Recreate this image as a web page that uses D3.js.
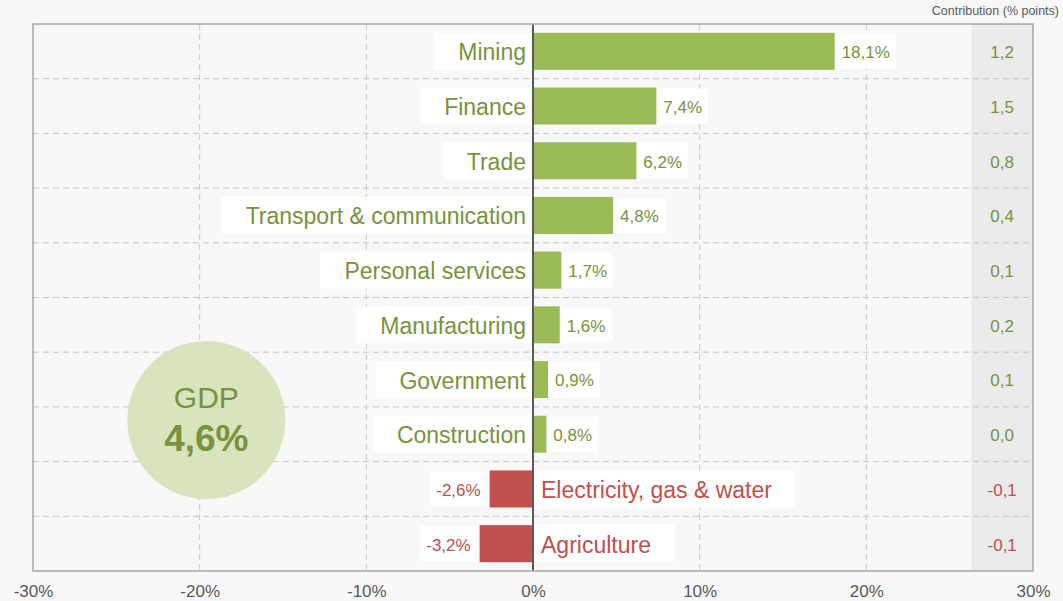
<!DOCTYPE html>
<html>
<head>
<meta charset="utf-8">
<script src="https://cdn.jsdelivr.net/npm/d3@7"></script>
<style>
  html, body { margin: 0; padding: 0; background: #f8f8f8; }
  svg { display: block; font-family: "Liberation Sans", Arial, sans-serif; }
</style>
</head>
<body>
<svg id="chart" width="1063" height="601"></svg>
<script>
// Sector growth rates (%) and contributions to GDP growth (percentage points)
const sectors = ["Mining", "Finance", "Trade", "Transport & communication", "Personal services",
                 "Manufacturing", "Government", "Construction", "Electricity, gas & water", "Agriculture"];
const growth = [18.1, 7.4, 6.2, 4.8, 1.7, 1.6, 0.9, 0.8, -2.6, -3.2];
const contribution = [1.2, 1.5, 0.8, 0.4, 0.1, 0.2, 0.1, 0.0, -0.1, -0.1];
const xTicks = [-30, -20, -10, 0, 10, 20, 30];
const gdpGrowth = 4.6;
const contributionTitle = "Contribution (% points)";

const W = 1063, H = 601;
const m = { left: 33, right: 30, top: 24, bottom: 30 };
const plotR = W - m.right, plotB = H - m.bottom;

const GREEN = "#9bbb59", GREEN_TXT = "#77933c";
const RED = "#c0504d", RED_TXT = "#c0504d";
const GREY_TXT = "#595959";

// decimal comma, plain hyphen for negatives
const fmt = v => d3.format(".1f")(v).replace(".", ",").replace("\u2212", "-");

const svg = d3.select("#chart");

const x = d3.scaleLinear().domain([-30, 30]).range([m.left, plotR]);
const y = d3.scaleBand().domain(sectors).range([m.top, plotB]).paddingInner(0).paddingOuter(0);
const barPad = (y.bandwidth() - 37) / 2;

// contribution column shading
const colL = x(26.3);
svg.append("rect").attr("x", colL).attr("y", m.top)
  .attr("width", plotR - colL).attr("height", plotB - m.top).attr("fill", "#ebebeb");

// dashed grid
const grid = svg.append("g").attr("stroke", "#c6c6c6").attr("stroke-width", 1).attr("stroke-dasharray", "6,4");
grid.selectAll("line.v").data(xTicks.filter(t => t !== 0 && Math.abs(t) !== 30)).join("line")
  .attr("x1", d => x(d)).attr("x2", d => x(d)).attr("y1", m.top).attr("y2", plotB);
grid.selectAll("line.h").data(sectors.slice(1)).join("line")
  .attr("x1", m.left).attr("x2", plotR).attr("y1", d => y(d)).attr("y2", d => y(d));

// GDP bubble
const gdp = svg.append("g")
  .attr("transform", `translate(${x(-19.6)},${y("Construction") + 0.24 * y.bandwidth()})`);
gdp.append("circle").attr("r", 79).attr("fill", "#d7e4bd");
gdp.append("text").attr("y", -12).attr("text-anchor", "middle").attr("font-size", 30)
  .attr("fill", GREEN_TXT).text("GDP");
gdp.append("text").attr("y", 31).attr("text-anchor", "middle").attr("font-size", 37)
  .attr("font-weight", "bold").attr("fill", GREEN_TXT).text(fmt(gdpGrowth) + "%");

// rows
const rows = svg.append("g").selectAll("g").data(sectors).join("g")
  .attr("transform", d => `translate(0,${y(d)})`);

const barTop = barPad, barH = y.bandwidth() - 2 * barPad, mid = y.bandwidth() / 2 + 1;

rows.each(function (name, i) {
  const g = d3.select(this);
  const v = growth[i];
  const pos = v >= 0;
  const txtCol = pos ? GREEN_TXT : RED_TXT;

  // sector name with white backing box on the side opposite the bar
  const lab = g.append("text").attr("font-size", 23).attr("fill", txtCol)
    .attr("y", mid).attr("dy", "0.35em")
    .attr("text-anchor", pos ? "end" : "start")
    .attr("x", pos ? x(0) - 7 : x(0) + 8).text(name);
  const lb = lab.node().getBBox();
  const padFar = 24, padNear = 5;
  g.insert("rect", "text")
    .attr("x", pos ? lb.x - padFar : x(0))
    .attr("width", lb.width + padFar + padNear + (pos ? 0 : 2))
    .attr("y", barTop).attr("height", barH).attr("fill", "#ffffff");

  // bar
  g.append("rect").attr("x", x(Math.min(0, v))).attr("width", Math.abs(x(v) - x(0)))
    .attr("y", barTop).attr("height", barH).attr("fill", pos ? GREEN : RED);

  // value label with white backing box
  const val = g.append("text").attr("font-size", 17).attr("fill", txtCol)
    .attr("y", mid).attr("dy", "0.35em")
    .attr("text-anchor", pos ? "start" : "end")
    .attr("x", pos ? x(v) + 7 : x(v) - 9).text(fmt(v) + "%");
  const vb = val.node().getBBox();
  g.append("rect")
    .attr("x", vb.x - 6).attr("width", vb.width + 12)
    .attr("y", barTop + 1).attr("height", barH - 2).attr("fill", "#ffffff");
  val.raise();

  // contribution value
  g.append("text").attr("font-size", 17).attr("fill", contribution[i] < 0 ? RED_TXT : GREEN_TXT)
    .attr("x", (colL + plotR) / 2).attr("y", mid).attr("dy", "0.35em")
    .attr("text-anchor", "middle").text(fmt(contribution[i]));
});

// zero line
svg.append("line").attr("x1", x(0)).attr("x2", x(0)).attr("y1", m.top).attr("y2", plotB)
  .attr("stroke", GREY_TXT).attr("stroke-width", 2);

// plot frame
svg.append("rect").attr("x", m.left).attr("y", m.top)
  .attr("width", plotR - m.left).attr("height", plotB - m.top)
  .attr("fill", "none").attr("stroke", "#a6a6a6").attr("stroke-width", 1.5);

// x axis labels
const xAxis = d3.axisBottom(x).tickValues(xTicks).tickSize(0).tickPadding(0)
  .tickFormat(d => d + "%");
const ax = svg.append("g").attr("transform", `translate(0,${plotB})`).call(xAxis);
ax.select(".domain").remove();
ax.selectAll("text").attr("font-size", 17).attr("fill", GREY_TXT)
  .attr("font-family", "Liberation Sans, Arial, sans-serif").attr("y", 14).attr("dy", "0.71em");

// contribution column title
svg.append("text").attr("x", W - 4).attr("y", 15).attr("text-anchor", "end")
  .attr("font-size", 12.5).attr("fill", GREY_TXT).text(contributionTitle);
</script>
</body>
</html>
